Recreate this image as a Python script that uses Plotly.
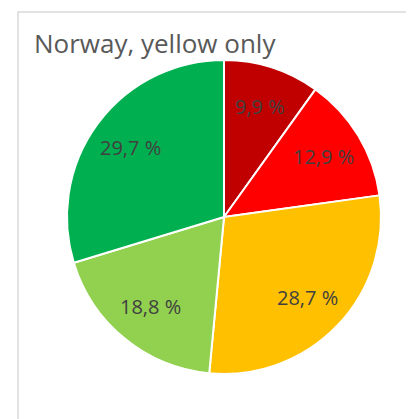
import math
import plotly.graph_objects as go

categories = ["Dark red", "Red", "Yellow", "Light green", "Green"]
values = [9.9, 12.9, 28.7, 18.8, 29.7]
text_labels = ["9,9 %", "12,9 %", "28,7 %", "18,8 %", "29,7 %"]
colors = ["#C00000", "#FF0000", "#FFC000", "#92D050", "#00B050"]

W, H = 414, 419
OFF = 8  # default page body margin
# pie geometry in page pixels
CX, CY, R = 224 - OFF, 217 - OFF, 157
LABEL_FRAC = 0.74

fig = go.Figure(go.Pie(
    labels=categories,
    values=values,
    text=text_labels,
    textinfo="none",
    sort=False,
    direction="clockwise",
    rotation=0,
    marker=dict(colors=colors, line=dict(color="white", width=2)),
    hoverinfo="label+text",
    domain=dict(x=[(CX - R) / W, (CX + R) / W], y=[1 - (CY + R) / H, 1 - (CY - R) / H]),
    showlegend=False,
))

annotations = [dict(text="Norway, yellow only", xref="paper", yref="paper",
                    x=(32 - OFF) / W, y=1 - (43 - OFF) / H, xanchor="left", yanchor="middle",
                    showarrow=False,
                    font=dict(family="Open Sans, Liberation Sans, sans-serif", size=26, color="#595959"))]

total = sum(values)
cum = 0.0
for v, t in zip(values, text_labels):
    mid = (cum + v / 2) / total * 2 * math.pi
    cum += v
    px = CX + LABEL_FRAC * R * math.sin(mid)
    py = CY - LABEL_FRAC * R * math.cos(mid)
    annotations.append(dict(text=t, xref="paper", yref="paper",
                            x=px / W, y=1 - py / H, xanchor="center", yanchor="middle",
                            showarrow=False,
                            font=dict(family="Open Sans, Liberation Sans, sans-serif", size=20, color="#404040")))

fig.update_layout(
    width=W, height=H,
    margin=dict(l=0, r=0, t=0, b=0),
    paper_bgcolor="white",
    plot_bgcolor="white",
    shapes=[dict(type="rect", xref="paper", yref="paper",
                 x0=(18 - OFF) / W, x1=1.05, y0=-0.05, y1=1 - (12 - OFF) / H,
                 line=dict(color="#D9D9D9", width=1.5), layer="below")],
    annotations=annotations,
)

fig.write_html("out.html")
